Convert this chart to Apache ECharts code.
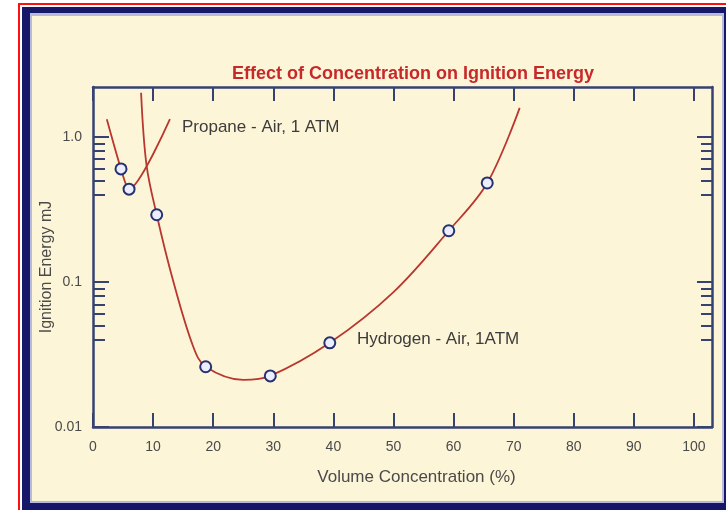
<!DOCTYPE html>
<html>
<head>
<meta charset="utf-8">
<script src="https://cdn.jsdelivr.net/npm/echarts@6/dist/echarts.min.js"></script>
<style>
  html, body { margin: 0; padding: 0; background: #ffffff; }
  #chart { width: 726px; height: 510px; }
</style>
</head>
<body>
<div id="chart"></div>
<script>
// Concentration (%) tick marks and log-scale energy ticks
const xTickValues = [0, 10, 20, 30, 40, 50, 60, 70, 80, 90, 100];
const yMajorTicks = [0.01, 0.1, 1];
const yMinorTicks = [0.9, 0.8, 0.7, 0.6, 0.5, 0.4, 0.09, 0.08, 0.07, 0.06, 0.05, 0.04];

// Propane - Air curve and measured points
const propaneCurveX = [2.3, 4.66, 6.0, 12.8];
const propaneCurveY = [1.32, 0.60, 0.435, 1.32];
const propanePointX = [4.66, 6.0];
const propanePointY = [0.60, 0.435];

// Hydrogen - Air curve and measured points
const hydrogenCurveX = [8.0, 8.9, 10.6, 13.3, 16.7, 18.75, 25.0, 29.5, 39.4, 50.0, 59.2, 65.6, 71.0];
const hydrogenCurveY = [2.01, 0.64, 0.29, 0.103, 0.0356, 0.026, 0.0211, 0.0225, 0.038, 0.085, 0.225, 0.48, 1.58];
const hydrogenPointX = [10.6, 18.75, 29.5, 39.4, 59.2, 65.6];
const hydrogenPointY = [0.29, 0.026, 0.0225, 0.038, 0.225, 0.48];

const pairs = (xs, ys) => xs.map((x, i) => [x, ys[i]]);

const FONT = '"Liberation Sans", Arial, Helvetica, sans-serif';
const AXIS = '#364272';
const TEXT = '#4a4a4a';
const CURVE = '#b8372e';

const axisLine = { show: true, lineStyle: { color: AXIS, width: 2.5 } };
const tickStyle = { color: AXIS, width: 2 };

const chart = echarts.init(document.getElementById('chart'), null, { renderer: 'canvas' });

chart.setOption({
  backgroundColor: '#ffffff',
  animation: false,
  title: {
    text: 'Effect of Concentration on Ignition Energy',
    left: 408,
    top: 60,
    textAlign: 'center',
    textStyle: { color: '#c8282a', fontSize: 18, fontWeight: 'bold', fontFamily: FONT }
  },
  grid: { left: 93, right: 14, top: 87, bottom: 83 },
  xAxis: [
    {
      type: 'value', position: 'bottom', min: 0, max: 103, interval: 10,
      axisLine: axisLine,
      axisTick: { inside: true, length: 14, customValues: xTickValues, lineStyle: tickStyle },
      axisLabel: { customValues: xTickValues, color: TEXT, fontSize: 14, fontFamily: FONT, margin: 13 },
      splitLine: { show: false },
      name: 'Volume Concentration (%)',
      nameLocation: 'middle',
      nameGap: 42,
      nameTextStyle: { color: TEXT, fontSize: 17, fontFamily: FONT, padding: [0, 0, 0, 28] }
    },
    {
      type: 'value', position: 'top', min: 0, max: 103, interval: 10,
      axisLine: axisLine,
      axisTick: { inside: true, length: 14, customValues: xTickValues, lineStyle: tickStyle },
      axisLabel: { show: false },
      splitLine: { show: false }
    }
  ],
  yAxis: [
    {
      type: 'log', logBase: 10, position: 'left', min: 0.01, max: 2.2,
      axisLine: axisLine,
      axisTick: { inside: true, length: 16, customValues: yMajorTicks, lineStyle: tickStyle },
      axisLabel: {
        customValues: yMajorTicks, color: TEXT, fontSize: 14, fontFamily: FONT, margin: 11,
        formatter: v => (v === 1 ? '1.0' : String(v))
      },
      splitLine: { show: false },
      name: 'Ignition Energy mJ',
      nameLocation: 'middle',
      nameGap: 38,
      nameMoveOverlap: false,
      nameTextStyle: { color: TEXT, fontSize: 16, fontFamily: FONT, padding: [0, 20, 0, 0] }
    },
    {
      type: 'log', logBase: 10, position: 'left', min: 0.01, max: 2.2,
      axisLine: { show: false },
      axisTick: { inside: true, length: 12, customValues: yMinorTicks, lineStyle: tickStyle },
      axisLabel: { show: false },
      splitLine: { show: false }
    },
    {
      type: 'log', logBase: 10, position: 'right', min: 0.01, max: 2.2,
      axisLine: axisLine,
      axisTick: { inside: true, length: 15, customValues: yMajorTicks, lineStyle: tickStyle },
      axisLabel: { show: false },
      splitLine: { show: false }
    },
    {
      type: 'log', logBase: 10, position: 'right', min: 0.01, max: 2.2,
      axisLine: { show: false },
      axisTick: { inside: true, length: 11, customValues: yMinorTicks, lineStyle: tickStyle },
      axisLabel: { show: false },
      splitLine: { show: false }
    }
  ],
  graphic: [
    // page frame: red outline, navy border, cream panel
    { type: 'rect', z: -30, silent: true, shape: { x: 19, y: 4, width: 740, height: 540 },
      style: { fill: null, stroke: '#ff1010', lineWidth: 2 } },
    { type: 'rect', z: -29, silent: true, shape: { x: 22, y: 7, width: 740, height: 540 },
      style: { fill: '#17176a' } },
    { type: 'rect', z: -28, silent: true, shape: { x: 30, y: 13, width: 694, height: 490 },
      style: { fill: '#b9b9dc' } },
    { type: 'rect', z: -27, silent: true, shape: { x: 32, y: 16, width: 690, height: 485 },
      style: { fill: '#fdf5d8' } },
    { type: 'text', z: 10, left: 182, top: 119, silent: true,
      style: { text: 'Propane - Air, 1 ATM', fill: '#3c3c3c', font: '17px ' + FONT } },
    { type: 'text', z: 10, left: 357, top: 331, silent: true,
      style: { text: 'Hydrogen - Air, 1ATM', fill: '#3c3c3c', font: '17px ' + FONT } }
  ],
  series: [
    {
      type: 'line', name: 'Propane - Air, 1 ATM', xAxisIndex: 0, yAxisIndex: 0,
      data: pairs(propaneCurveX, propaneCurveY),
      smooth: 0.25, showSymbol: false, symbol: 'none',
      lineStyle: { color: CURVE, width: 1.8 }, z: 3
    },
    {
      type: 'line', name: 'Hydrogen - Air, 1ATM', xAxisIndex: 0, yAxisIndex: 0,
      data: pairs(hydrogenCurveX, hydrogenCurveY),
      smooth: 0.35, showSymbol: false, symbol: 'none',
      lineStyle: { color: CURVE, width: 1.8 }, z: 3
    },
    {
      type: 'scatter', xAxisIndex: 0, yAxisIndex: 0,
      data: pairs(propanePointX, propanePointY).concat(pairs(hydrogenPointX, hydrogenPointY)),
      symbol: 'circle', symbolSize: 11,
      itemStyle: { color: '#eceeff', borderColor: '#26316f', borderWidth: 2, opacity: 1 },
      z: 5
    }
  ]
});
</script>
</body>
</html>
